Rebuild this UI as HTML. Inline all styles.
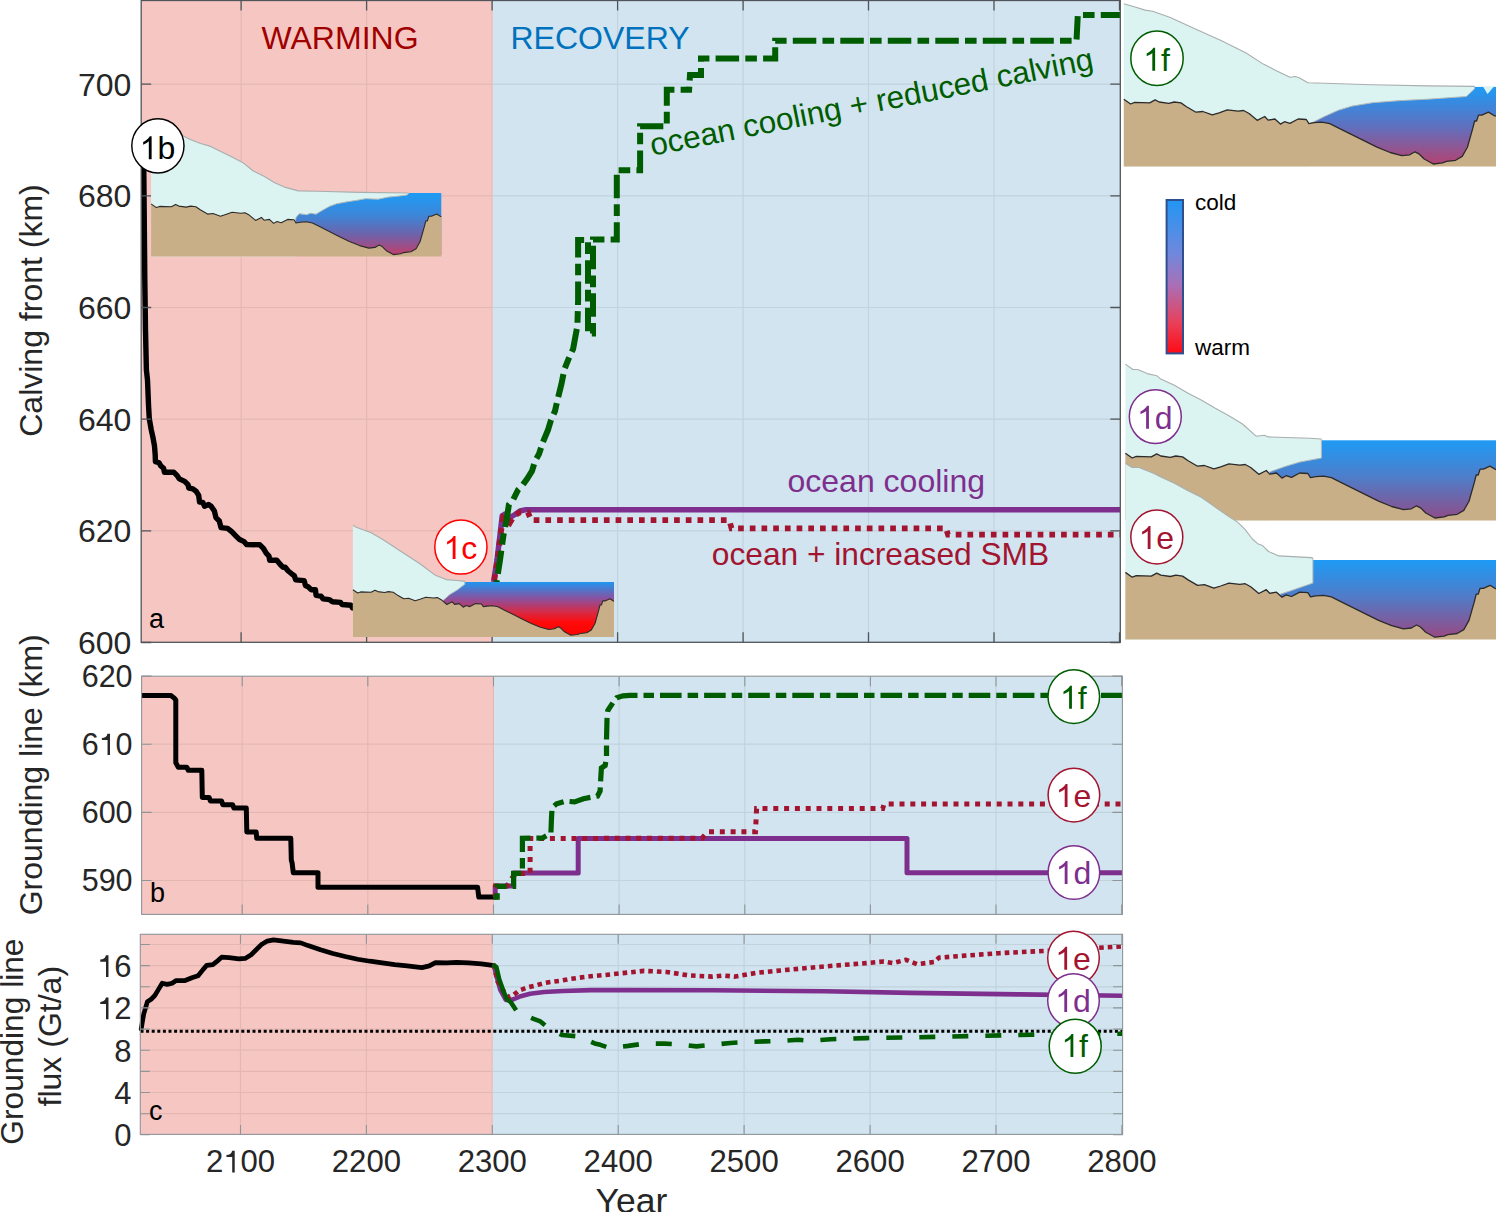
<!DOCTYPE html>
<html><head><meta charset="utf-8"><title>Calving front recovery</title>
<style>
html,body{margin:0;padding:0;background:#fff;overflow:hidden;}
svg{display:block;}
text{font-family:"Liberation Sans",sans-serif;}
</style></head><body>
<svg width="1496" height="1212" viewBox="0 0 1496 1212">
<defs><linearGradient id="w1b" gradientUnits="userSpaceOnUse" x1="0" y1="193" x2="0" y2="256"><stop offset="0" stop-color="#1E9BF5"/><stop offset="0.35" stop-color="#3C86D8"/><stop offset="0.65" stop-color="#6C64AC"/><stop offset="1" stop-color="#C43C68"/></linearGradient>
<linearGradient id="w1c" gradientUnits="userSpaceOnUse" x1="0" y1="582" x2="0" y2="636"><stop offset="0" stop-color="#1E96F0"/><stop offset="0.3" stop-color="#8852A0"/><stop offset="0.55" stop-color="#D42C48"/><stop offset="0.75" stop-color="#FF0A0A"/><stop offset="1" stop-color="#FF0000"/></linearGradient>
<linearGradient id="w1f" gradientUnits="userSpaceOnUse" x1="0" y1="87" x2="0" y2="166"><stop offset="0" stop-color="#1E9BF5"/><stop offset="0.5" stop-color="#6070BE"/><stop offset="1" stop-color="#B8406E"/></linearGradient>
<linearGradient id="cbar" x1="0" y1="0" x2="0" y2="1"><stop offset="0" stop-color="#2196F3"/><stop offset="0.35" stop-color="#7088DC"/><stop offset="0.55" stop-color="#A870B8"/><stop offset="0.8" stop-color="#E8405A"/><stop offset="1" stop-color="#FF0A14"/></linearGradient>
<linearGradient id="w1d" gradientUnits="userSpaceOnUse" x1="0" y1="440" x2="0" y2="519"><stop offset="0" stop-color="#1E9BF5"/><stop offset="0.45" stop-color="#4C7FCC"/><stop offset="1" stop-color="#904C88"/></linearGradient>
<linearGradient id="w1e" gradientUnits="userSpaceOnUse" x1="0" y1="560" x2="0" y2="638"><stop offset="0" stop-color="#1E9BF5"/><stop offset="0.45" stop-color="#4E7DCA"/><stop offset="1" stop-color="#9A4882"/></linearGradient></defs>
<rect width="1496" height="1212" fill="#fff"/>
<rect x="141.2" y="0.5" width="351.6" height="641.8" fill="#F6C7C2"/>
<rect x="492.8" y="0.5" width="627.5" height="641.8" fill="#D1E4EF"/>
<path d="M241.1,0.5V642.3M366.6,0.5V642.3M492.1,0.5V642.3M617.6,0.5V642.3M743.1,0.5V642.3M868.5,0.5V642.3M994,0.5V642.3M141.2,530.8H1120.3M141.2,419.1H1120.3M141.2,307.5H1120.3M141.2,195.8H1120.3M141.2,84.1H1120.3" stroke="#000" stroke-opacity="0.075" stroke-width="1.2" fill="none"/>
<rect x="141.6" y="676.2" width="352.5" height="238.2" fill="#F6C7C2"/>
<rect x="494.1" y="676.2" width="628.3" height="238.2" fill="#D1E4EF"/>
<path d="M242.2,676.2V914.4M367.8,676.2V914.4M493.5,676.2V914.4M619.1,676.2V914.4M744.8,676.2V914.4M870.4,676.2V914.4M996,676.2V914.4M141.6,880.5H1122.4M141.6,812.4H1122.4M141.6,744.2H1122.4" stroke="#000" stroke-opacity="0.075" stroke-width="1.2" fill="none"/>
<rect x="140.3" y="934.3" width="352.5" height="200.1" fill="#F6C7C2"/>
<rect x="492.8" y="934.3" width="629.8" height="200.1" fill="#D1E4EF"/>
<path d="M240.5,934.3V1134.4M366.4,934.3V1134.4M492.3,934.3V1134.4M618.2,934.3V1134.4M744.1,934.3V1134.4M870.1,934.3V1134.4M996,934.3V1134.4M140.3,1113.7H1122.6M140.3,1092.5H1122.6M140.3,1071.4H1122.6M140.3,1050.2H1122.6M140.3,1029.1H1122.6M140.3,1007.9H1122.6M140.3,986.8H1122.6M140.3,965.6H1122.6M140.3,944.5H1122.6" stroke="#000" stroke-opacity="0.075" stroke-width="1.2" fill="none"/>
<path d="M143.6,140 L143.8,170 L144.8,279 L145.5,330 L146.4,370 L147.5,380 L148.5,404.7 L149.3,418.8 L151.2,429.5 L153,437.7 L154.5,446 L155.2,455 L155.4,461.6 L159.1,462.8 L160.7,465.7 L163.6,468.2 L164.4,472.3 L173.9,472.3 L177.2,475.6 L179.3,478.9 L184.7,481.4 L188,484.7 L188.8,488 L192.9,488.8 L196.2,491.3 L198.7,495.4 L199.5,502 L202.8,502.4 L204.5,506.2 L208.6,504.5 L211.1,506.2 L214.4,511.1 L216,517.7 L219.3,521 L221,527.6 L227.6,528.4 L231.7,531.7 L235.8,535.9 L239.1,539.2 L244.1,541.6 L246.5,544.5 L259.9,544.8 L263.4,548.3 L266.2,553.2 L269,556.1 L269.7,560.3 L276.8,560.3 L280.3,564.5 L283.1,567.3 L285.2,567.3 L288,570.8 L292.2,574.3 L294.3,575.7 L295.7,579.9 L304.1,580.6 L305.5,585.5 L308.3,586.9 L311.1,589.7 L315.4,589.7 L316.1,595.4 L321,596.1 L323.1,598.9 L329.4,599.6 L332.2,601.7 L340.6,602.4 L342,604.5 L351.1,605.2 L352.5,608 L360,608" stroke="#000" stroke-width="5.4" fill="none" stroke-linecap="round" stroke-linejoin="round"/>
<path d="M493.6,582 L497,560 L500,535 L502.2,516 L505,514 L510,517.5 L515,514.5 L520,511 L525,509.8 L1120,509.8" stroke="#7E2F8E" stroke-width="5.5" fill="none" stroke-linecap="butt" stroke-linejoin="round"/>
<path d="M494,582 L497.5,560 L500.5,535 L503,518 L509.8,523 L514,516 L519.7,512.3 L527.9,512.3 L531.2,520.2 L729.3,520.2 L731.5,528.3 L945.9,528.3 L948,534.7 L1120,534.7" stroke="#A2142F" stroke-width="5.7" fill="none" stroke-linecap="butt" stroke-linejoin="miter" stroke-dasharray="5.7 6" stroke-dashoffset="9.71"/>
<path d="M496.6,582 L500,560 L503.5,535 L506.6,520 L508.9,504.5 L513,500 L518,490 L522,486 L527,479 L532,471 L535,461 L539,454 L543,442 L548,430 L551,420 L555,411 L557,402 L561.5,383.8 L564.4,369.3 L570.2,354.9 L573.1,349.1 L576,333.2 L577.4,326 L578.1,300 L578.1,240 L588,240 L588,333.5 L593,333.5 L593,239.5 L616.8,239.5 L616.8,170.3 L640.1,170.3 L640.1,126.2 L666.8,126.2 L666.8,89.8 L689.1,89.8 L690,75 L701,75 L701,58.6 L775.2,58.6 L775.2,40.8 L1076.5,40.8 L1077.8,15 L1120,15" stroke="#005C00" stroke-width="6" fill="none" stroke-linecap="butt" stroke-linejoin="miter" stroke-dasharray="23.5 6.2 11.6 6.2" stroke-dashoffset="39.31"/>
<path d="M141.2,695.5 L170.9,695.5 L174.6,698.4 L175.8,700 L175.8,762.8 L178.3,767.2 L186.9,767.2 L188.2,770.2 L201.8,770.2 L202.3,797.4 L209.2,797.4 L210.4,801.1 L221.6,801.1 L222.8,804.8 L232.7,804.8 L233.9,808 L246.3,808 L246.8,832 L256.2,832 L256.7,838.2 L290.8,838.2 L291.3,860 L292.1,862.9 L293.3,872.8 L318,872.8 L318,887.2 L477.6,887.2 L478.8,897.1 L494,897.1" stroke="#000" stroke-width="5.0" fill="none" stroke-linecap="butt" stroke-linejoin="round"/>
<path d="M493.5,897.1 L495.2,897.1 L495.2,886 L513.6,886 L513.6,873 L578.2,873 L578.2,838.6 L907,838.6 L907,872.8 L1122,872.8" stroke="#7E2F8E" stroke-width="5.0" fill="none" stroke-linecap="butt" stroke-linejoin="round"/>
<path d="M493.5,897.1 L495.5,897.1 L495.5,886 L507,886 L512,878 L516,873.5 L530.1,873.5 L530.1,838.5 L702,838.2 L707.7,831.8 L755.5,831.8 L756.6,808.6 L882.7,808.6 L884,804.1 L1122,804.1" stroke="#A2142F" stroke-width="5.0" fill="none" stroke-linecap="butt" stroke-linejoin="miter" stroke-dasharray="5 5.8" stroke-dashoffset="9.85"/>
<path d="M493.5,897.1 L497.2,897.1 L497.2,886.3 L513.6,886.3 L513.6,873.3 L522.4,873.3 L522.4,838.3 L542.6,838 L550.9,833.2 L551.5,817.8 L552.1,807.6 L556.6,803.8 L565.6,801.2 L574.5,801.9 L583.5,798.7 L597.5,796.1 L600.1,791 L600.7,779.5 L601.4,768 L605.2,765.4 L606.5,756.5 L606.5,739.9 L607.1,715.6 L607.8,710.5 L612.9,702.8 L616.7,697.7 L623.1,695.8 L630,695.3 L1122,695.3" stroke="#005C00" stroke-width="5.2" fill="none" stroke-linecap="butt" stroke-linejoin="miter" stroke-dasharray="21.6 6 10.5 6" stroke-dashoffset="14.10"/>
<path d="M140.5,1031.3 L1122,1031.3" stroke="#000" stroke-width="3" fill="none" stroke-linecap="butt" stroke-linejoin="round" stroke-dasharray="3 2.6"/>
<path d="M141.2,1028.9 L143.7,1014.1 L147.4,1001.7 L151.1,999.3 L154.8,995.5 L158.5,989.4 L162.2,983.2 L167.2,984.4 L172.1,983.2 L175.8,980.7 L184.5,980.7 L191.9,977.7 L198.1,975.8 L203,969.6 L206.7,965.4 L212.9,964.6 L216.6,961.7 L221.6,957.2 L229,957.7 L238.9,958.9 L245.1,958.4 L251.2,954.7 L256.2,949.8 L261.1,944.8 L267.3,941.1 L273.5,939.9 L283.4,941.1 L293.3,942.4 L300.7,942.9 L308.1,945.6 L320.5,949.8 L332.9,953.5 L345.2,956.5 L357.6,959.2 L370,961.2 L382.3,962.9 L394.7,964.6 L407.1,965.9 L421.9,967.6 L429.3,965.9 L435.5,962.6 L446.6,962.9 L456.5,962.4 L468.9,962.9 L481.3,963.9 L492.4,965.4" stroke="#000" stroke-width="4.7" fill="none" stroke-linecap="round" stroke-linejoin="round"/>
<path d="M492.5,965.3 L494,965.6 L496.4,975.6 L500.2,989.6 L505.8,999.9 L510,1000.2 L514.2,999 L520.8,996.2 L530.1,993.8 L544.1,992 L562.9,991 L590.9,990.1 L628,990.1 L712.3,990.2 L825,991.3 L910.3,992.9 L1020.6,994.4 L1122,995.7" stroke="#7E2F8E" stroke-width="4.6" fill="none" stroke-linecap="butt" stroke-linejoin="round"/>
<path d="M492.5,965.3 L494,965.6 L497.4,981.2 L503.9,991.5 L508.6,997.1 L513.3,995.2 L518.9,990.6 L526.4,987.8 L535.7,985.4 L544.1,983.1 L552.6,981.7 L561,980.7 L569.4,979.1 L577.8,977.9 L587.2,976.7 L595.6,975.8 L604,975.1 L612.5,974.2 L621.8,973.2 L644.1,970.9 L666.8,972 L689.5,975.5 L712.3,976.6 L723.6,975.5 L735,976.6 L757.7,972.7 L780.5,970.5 L825,966.4 L866.2,963.1 L883.8,961.5 L892.7,963.1 L905.9,959.8 L916.9,964.2 L934.6,962 L939,957.6 L998.5,953.2 L1042.7,951 L1122,946.5" stroke="#A2142F" stroke-width="4.6" fill="none" stroke-linecap="butt" stroke-linejoin="round" stroke-dasharray="4.6 4"/>
<path d="M492.5,965.3 L494,965.5 L496.4,967.2 L499.2,979.3 L503,990 L506.7,999 L510.5,1001.8 L516.1,1010.2" stroke="#005C00" stroke-width="4.6" fill="none" stroke-linecap="butt" stroke-linejoin="round"/>
<path d="M516.1,1010.2 L524,1014.5 L532.9,1018.6 L540.4,1021.4 L546,1026.1 L554,1031 L561.9,1035 L578.8,1036.4 L586,1039.5 L594.7,1043.4 L600.3,1044.8 L609.7,1048.1 L628.2,1045.9 L644.1,1043.6 L664.5,1043.6 L678.2,1044.3 L696.4,1046.4 L712.3,1044.8 L730.5,1043 L746.4,1042 L764.5,1041.4 L780.5,1040.9 L798.6,1039.8 L810,1040.7 L830.9,1039.2 L866.2,1038.1 L910.3,1037.4 L976.5,1035.9 L1031.6,1034.8 L1122,1033.7" stroke="#005C00" stroke-width="4.6" fill="none" stroke-linecap="butt" stroke-linejoin="round" stroke-dasharray="16 17" stroke-dashoffset="16.18"/>
<path d="M241.1,642.3v-10M241.1,0.5v10M366.6,642.3v-10M366.6,0.5v10M492.1,642.3v-10M492.1,0.5v10M617.6,642.3v-10M617.6,0.5v10M743.1,642.3v-10M743.1,0.5v10M868.5,642.3v-10M868.5,0.5v10M994,642.3v-10M994,0.5v10M1119.5,642.3v-10M1119.5,0.5v10M141.2,642.5h10M1120.3,642.5h-10M141.2,530.8h10M1120.3,530.8h-10M141.2,419.1h10M1120.3,419.1h-10M141.2,307.5h10M1120.3,307.5h-10M141.2,195.8h10M1120.3,195.8h-10M141.2,84.1h10M1120.3,84.1h-10" stroke="#4F555A" stroke-width="1.3" fill="none"/>
<rect x="141.2" y="0.5" width="979.1" height="641.8" fill="none" stroke="#4F555A" stroke-width="1.3"/>
<path d="M242.2,914.4v-10M242.2,676.2v10M367.8,914.4v-10M367.8,676.2v10M493.5,914.4v-10M493.5,676.2v10M619.1,914.4v-10M619.1,676.2v10M744.8,914.4v-10M744.8,676.2v10M870.4,914.4v-10M870.4,676.2v10M996,914.4v-10M996,676.2v10M1121.7,914.4v-10M1121.7,676.2v10M141.6,880.5h10M1122.4,880.5h-10M141.6,812.4h10M1122.4,812.4h-10M141.6,744.2h10M1122.4,744.2h-10M141.6,676.1h10M1122.4,676.1h-10" stroke="#8F9499" stroke-width="1.1" fill="none"/>
<rect x="141.6" y="676.2" width="980.8" height="238.2" fill="none" stroke="#8F9499" stroke-width="1.1"/>
<path d="M240.5,1134.4v-9.5M240.5,934.3v9.5M366.4,1134.4v-9.5M366.4,934.3v9.5M492.3,1134.4v-9.5M492.3,934.3v9.5M618.2,1134.4v-9.5M618.2,934.3v9.5M744.1,1134.4v-9.5M744.1,934.3v9.5M870.1,1134.4v-9.5M870.1,934.3v9.5M996,1134.4v-9.5M996,934.3v9.5M1121.9,1134.4v-9.5M1121.9,934.3v9.5M140.3,1134.8h9.5M1122.6,1134.8h-9.5M140.3,1113.7h9.5M1122.6,1113.7h-9.5M140.3,1092.5h9.5M1122.6,1092.5h-9.5M140.3,1071.4h9.5M1122.6,1071.4h-9.5M140.3,1050.2h9.5M1122.6,1050.2h-9.5M140.3,1029.1h9.5M1122.6,1029.1h-9.5M140.3,1007.9h9.5M1122.6,1007.9h-9.5M140.3,986.8h9.5M1122.6,986.8h-9.5M140.3,965.6h9.5M1122.6,965.6h-9.5M140.3,944.5h9.5M1122.6,944.5h-9.5" stroke="#8F9499" stroke-width="1.1" fill="none"/>
<rect x="140.3" y="934.3" width="982.3" height="200.1" fill="none" stroke="#8F9499" stroke-width="1.1"/>
<rect x="295" y="193" width="146.3" height="62" fill="url(#w1b)"/>
<polygon points="151.1,128 170,131 182.8,135.7 189.2,138.9 199.9,143.2 210.6,146.4 221.3,151.7 232,157.1 242.6,162.4 253.3,171 264,176.3 274.7,182.7 285.4,187.4 298.3,190.9 317.5,191.3 360.3,192.4 408.4,193 408.7,193.2 407.1,195 398.8,196.1 388.4,197.1 378.1,199.2 365.6,198.7 357.4,200.2 347,201.8 336.6,203.8 329.4,206.4 321.1,211.1 315.9,214.2 310.7,213.2 306.6,214.7 299.3,213.7 296.2,217.3 295.2,221.5 295.2,256.5 151.1,256.5" fill="#DBF4F1"/>
<path d="M151.1,128 L170,131 L182.8,135.7 L189.2,138.9 L199.9,143.2 L210.6,146.4 L221.3,151.7 L232,157.1 L242.6,162.4 L253.3,171 L264,176.3 L274.7,182.7 L285.4,187.4 L298.3,190.9 L317.5,191.3 L360.3,192.4 L408.4,193" fill="none" stroke="#A9AEAE" stroke-width="1.1" stroke-linejoin="round"/>
<path d="M408.4,193 L408.7,193.2 L407.1,195 L398.8,196.1 L388.4,197.1 L378.1,199.2 L365.6,198.7 L357.4,200.2 L347,201.8 L336.6,203.8 L329.4,206.4 L321.1,211.1 L315.9,214.2 L310.7,213.2 L306.6,214.7 L299.3,213.7 L296.2,217.3 L295.2,221.5" fill="none" stroke="#B4BABA" stroke-width="1" stroke-linejoin="round"/>
<polygon points="151.1,203.9 156.4,207.6 159.6,206.4 171.4,206.8 175.6,204.4 178.8,206.1 186.3,207.1 190.6,206.1 195.9,206.8 200.2,209.8 207.6,214.1 213,213.5 220.4,216.2 225.7,214.5 232.1,212.3 240.7,213.2 244.9,212.7 249.2,215.1 255.6,220.4 261.4,217.4 264.1,220.2 269.4,219.4 273.7,223.4 276.9,221.5 281.2,222.8 287.6,219.4 294,219.8 296,223 300.1,222.2 306.3,221.8 312.4,223 318.6,226.1 328.8,231.2 339.1,236.4 349.4,241.5 359.6,245.6 368.9,248.1 375,247.4 379.1,245.1 382.2,246.6 386.3,250.7 393.4,254.6 400.6,253.8 403.7,252.6 410.9,251.7 416.1,248.7 420.1,241.5 424.2,227.1 425.8,221 427.3,221 428.8,216.3 431.4,216.3 436.6,214 441.3,216.9 441.3,256.5 151.1,256.5" fill="#C8AF87"/>
<path d="M151.1,203.9 L156.4,207.6 L159.6,206.4 L171.4,206.8 L175.6,204.4 L178.8,206.1 L186.3,207.1 L190.6,206.1 L195.9,206.8 L200.2,209.8 L207.6,214.1 L213,213.5 L220.4,216.2 L225.7,214.5 L232.1,212.3 L240.7,213.2 L244.9,212.7 L249.2,215.1 L255.6,220.4 L261.4,217.4 L264.1,220.2 L269.4,219.4 L273.7,223.4 L276.9,221.5 L281.2,222.8 L287.6,219.4 L294,219.8 L296,223 L300.1,222.2 L306.3,221.8 L312.4,223 L318.6,226.1 L328.8,231.2 L339.1,236.4 L349.4,241.5 L359.6,245.6 L368.9,248.1 L375,247.4 L379.1,245.1 L382.2,246.6 L386.3,250.7 L393.4,254.6 L400.6,253.8 L403.7,252.6 L410.9,251.7 L416.1,248.7 L420.1,241.5 L424.2,227.1 L425.8,221 L427.3,221 L428.8,216.3 L431.4,216.3 L436.6,214 L441.3,216.9" fill="none" stroke="#2B2B2B" stroke-width="1.1" stroke-linejoin="round"/>
<rect x="443" y="582" width="171" height="53.5" fill="url(#w1c)"/>
<polygon points="352.9,525.3 356.2,527.2 363.7,530 371.2,532.8 382.4,539.3 401.1,551.5 419.9,563.7 434.8,574.9 446.1,579.6 457.3,580.5 464.8,581.4 464.8,584.2 457.3,589.9 449.8,594.5 443.3,600.2 443.3,637 352.9,637" fill="#DBF4F1"/>
<path d="M352.9,525.3 L356.2,527.2 L363.7,530 L371.2,532.8 L382.4,539.3 L401.1,551.5 L419.9,563.7 L434.8,574.9 L446.1,579.6 L457.3,580.5 L464.8,581.4" fill="none" stroke="#A9AEAE" stroke-width="1.1" stroke-linejoin="round"/>
<path d="M464.8,581.4 L464.8,584.2 L457.3,589.9 L449.8,594.5 L443.3,600.2" fill="none" stroke="#B4BABA" stroke-width="1" stroke-linejoin="round"/>
<polygon points="352.9,589.7 357.7,593 360.6,591.9 371.1,592.3 375,590.2 377.8,591.6 384.6,592.5 388.4,591.6 393.2,592.3 397.1,594.9 403.8,598.8 408.6,598.3 415.2,600.7 420,599.2 425.8,597.2 433.5,598 437.3,597.6 441.2,599.7 446.9,604.5 452.2,601.8 454.6,604.4 459.3,603.6 463.2,607.2 466.1,605.5 469.9,606.6 475.7,603.6 481.5,604 483.3,606.8 487,606.1 492.5,605.8 498,606.8 503.6,609.7 512.8,614.2 522.1,618.9 531.3,623.5 540.5,627.2 548.8,629.5 554.4,628.8 558.1,626.7 560.8,628.1 564.5,631.8 570.9,635.3 577.4,634.5 580.2,633.5 586.7,632.7 591.3,630 595,623.5 598.6,610.6 600,605 601.4,605 602.8,600.9 605.1,600.9 609.8,598.7 614,601.4 614,637 352.9,637" fill="#C8AF87"/>
<path d="M352.9,589.7 L357.7,593 L360.6,591.9 L371.1,592.3 L375,590.2 L377.8,591.6 L384.6,592.5 L388.4,591.6 L393.2,592.3 L397.1,594.9 L403.8,598.8 L408.6,598.3 L415.2,600.7 L420,599.2 L425.8,597.2 L433.5,598 L437.3,597.6 L441.2,599.7 L446.9,604.5 L452.2,601.8 L454.6,604.4 L459.3,603.6 L463.2,607.2 L466.1,605.5 L469.9,606.6 L475.7,603.6 L481.5,604 L483.3,606.8 L487,606.1 L492.5,605.8 L498,606.8 L503.6,609.7 L512.8,614.2 L522.1,618.9 L531.3,623.5 L540.5,627.2 L548.8,629.5 L554.4,628.8 L558.1,626.7 L560.8,628.1 L564.5,631.8 L570.9,635.3 L577.4,634.5 L580.2,633.5 L586.7,632.7 L591.3,630 L595,623.5 L598.6,610.6 L600,605 L601.4,605 L602.8,600.9 L605.1,600.9 L609.8,598.7 L614,601.4" fill="none" stroke="#2B2B2B" stroke-width="1.1" stroke-linejoin="round"/>
<rect x="1309" y="86.9" width="187" height="78" fill="url(#w1f)"/>
<polygon points="1123.8,3.8 1132.6,6.3 1145.1,10.1 1152.7,11.3 1170.3,17.6 1195.4,28.9 1220.5,40.2 1245.7,52.8 1263.3,64.1 1275.8,70.4 1290,77.2 1295.5,76.5 1299.6,77.9 1307.9,82.7 1372.6,84.8 1427.7,85.9 1474.5,86.4 1474.5,88.9 1466.3,96.5 1427.7,99.2 1400.2,100.6 1372.6,102.7 1352,106.1 1338.2,110.3 1324.4,116.5 1309.3,124 1309.3,166.4 1123.8,166.4" fill="#DBF4F1"/>
<path d="M1123.8,3.8 L1132.6,6.3 L1145.1,10.1 L1152.7,11.3 L1170.3,17.6 L1195.4,28.9 L1220.5,40.2 L1245.7,52.8 L1263.3,64.1 L1275.8,70.4 L1290,77.2 L1295.5,76.5 L1299.6,77.9 L1307.9,82.7 L1372.6,84.8 L1427.7,85.9 L1474.5,86.4" fill="none" stroke="#A9AEAE" stroke-width="1.1" stroke-linejoin="round"/>
<path d="M1474.5,86.4 L1474.5,88.9 L1466.3,96.5 L1427.7,99.2 L1400.2,100.6 L1372.6,102.7 L1352,106.1 L1338.2,110.3 L1324.4,116.5 L1309.3,124" fill="none" stroke="#B4BABA" stroke-width="1" stroke-linejoin="round"/>
<polygon points="1123.8,99.2 1130.6,104 1134.7,102.4 1149.7,102.9 1155.1,99.9 1159.2,102 1168.8,103.3 1174.2,102 1181,102.9 1186.5,106.7 1196,112.2 1202.8,111.5 1212.3,114.9 1219.1,112.8 1227.3,109.9 1238.2,111.1 1243.6,110.5 1249.1,113.5 1257.2,120.3 1264.7,116.5 1268.1,120.1 1274.9,119 1280.4,124.1 1284.5,121.7 1289.9,123.3 1298.1,119 1306.3,119.5 1308.9,123.6 1314.1,122.6 1322,122.1 1329.8,123.6 1337.7,127.6 1350.8,134.1 1363.9,140.7 1377,147.2 1390.1,152.5 1401.9,155.7 1409.8,154.8 1415,151.8 1418.9,153.8 1424.2,159 1433.3,164 1442.5,162.9 1446.4,161.4 1455.6,160.3 1462.2,156.4 1467.4,147.2 1472.6,128.9 1474.6,121 1476.6,121 1478.5,115.1 1481.8,115.1 1488.4,112.1 1494.4,115.8 1496,115.8 1496,166.4 1123.8,166.4" fill="#C8AF87"/>
<path d="M1123.8,99.2 L1130.6,104 L1134.7,102.4 L1149.7,102.9 L1155.1,99.9 L1159.2,102 L1168.8,103.3 L1174.2,102 L1181,102.9 L1186.5,106.7 L1196,112.2 L1202.8,111.5 L1212.3,114.9 L1219.1,112.8 L1227.3,109.9 L1238.2,111.1 L1243.6,110.5 L1249.1,113.5 L1257.2,120.3 L1264.7,116.5 L1268.1,120.1 L1274.9,119 L1280.4,124.1 L1284.5,121.7 L1289.9,123.3 L1298.1,119 L1306.3,119.5 L1308.9,123.6 L1314.1,122.6 L1322,122.1 L1329.8,123.6 L1337.7,127.6 L1350.8,134.1 L1363.9,140.7 L1377,147.2 L1390.1,152.5 L1401.9,155.7 L1409.8,154.8 L1415,151.8 L1418.9,153.8 L1424.2,159 L1433.3,164 L1442.5,162.9 L1446.4,161.4 L1455.6,160.3 L1462.2,156.4 L1467.4,147.2 L1472.6,128.9 L1474.6,121 L1476.6,121 L1478.5,115.1 L1481.8,115.1 L1488.4,112.1 L1494.4,115.8 L1496,115.8" fill="none" stroke="#2B2B2B" stroke-width="1.3" stroke-linejoin="round"/>
<polygon points="1483,86.6 1494,86.6 1487.5,94" fill="#DBF4F1"/>
<rect x="1166.6" y="200" width="16.4" height="153.4" fill="url(#cbar)" stroke="#2F4F8F" stroke-width="2"/>
<text x="1195" y="209.8" font-size="22.5" fill="#000">cold</text>
<text x="1195" y="354.7" font-size="22.5" fill="#000">warm</text>
<rect x="1269.5" y="440.3" width="226.5" height="78.6" fill="url(#w1d)"/>
<polygon points="1125.4,364.1 1132.9,369.5 1137.7,369.5 1147.2,373.6 1156.7,375.7 1160.8,379.1 1174.4,385.2 1188.1,393.3 1201.7,400.2 1215.3,408.3 1228.9,415.8 1242.5,424 1256.1,436.2 1264.3,435.3 1268.4,436.9 1310,438.3 1321.4,439 1321.4,458 1300,462 1285,466.5 1269.5,472 1269.5,520.4 1125.4,520.4" fill="#DBF4F1"/>
<path d="M1125.4,364.1 L1132.9,369.5 L1137.7,369.5 L1147.2,373.6 L1156.7,375.7 L1160.8,379.1 L1174.4,385.2 L1188.1,393.3 L1201.7,400.2 L1215.3,408.3 L1228.9,415.8 L1242.5,424 L1256.1,436.2 L1264.3,435.3 L1268.4,436.9 L1310,438.3 L1321.4,439" fill="none" stroke="#A9AEAE" stroke-width="1.1" stroke-linejoin="round"/>
<path d="M1321.4,439 L1321.4,458 L1300,462 L1285,466.5 L1269.5,472" fill="none" stroke="#B4BABA" stroke-width="1" stroke-linejoin="round"/>
<polygon points="1125.4,453.2 1132.2,458 1136.3,456.4 1151.3,456.9 1156.7,453.9 1160.8,456 1170.4,457.3 1175.8,456 1182.6,456.9 1188.1,460.7 1197.6,466.2 1204.4,465.5 1213.9,468.9 1220.7,466.8 1228.9,463.9 1239.8,465.1 1245.2,464.5 1250.7,467.5 1258.8,474.3 1266.3,470.5 1269.7,474.1 1276.5,473 1282,478.1 1286.1,475.7 1291.5,477.3 1299.7,473 1307.9,473.5 1310.5,477.6 1315.7,476.6 1323.6,476.1 1331.4,477.6 1339.3,481.6 1352.4,488.1 1365.5,494.7 1378.6,501.2 1391.7,506.5 1403.5,509.7 1411.4,508.8 1416.6,505.8 1420.5,507.8 1425.8,513 1434.9,518 1444.1,516.9 1448,515.4 1457.2,514.3 1463.8,510.4 1469,501.2 1474.2,482.9 1476.2,475 1478.2,475 1480.1,469.1 1483.4,469.1 1490,466.1 1496,469.8 1496,520.4 1125.4,520.4" fill="#C8AF87"/>
<path d="M1125.4,453.2 L1132.2,458 L1136.3,456.4 L1151.3,456.9 L1156.7,453.9 L1160.8,456 L1170.4,457.3 L1175.8,456 L1182.6,456.9 L1188.1,460.7 L1197.6,466.2 L1204.4,465.5 L1213.9,468.9 L1220.7,466.8 L1228.9,463.9 L1239.8,465.1 L1245.2,464.5 L1250.7,467.5 L1258.8,474.3 L1266.3,470.5 L1269.7,474.1 L1276.5,473 L1282,478.1 L1286.1,475.7 L1291.5,477.3 L1299.7,473 L1307.9,473.5 L1310.5,477.6 L1315.7,476.6 L1323.6,476.1 L1331.4,477.6 L1339.3,481.6 L1352.4,488.1 L1365.5,494.7 L1378.6,501.2 L1391.7,506.5 L1403.5,509.7 L1411.4,508.8 L1416.6,505.8 L1420.5,507.8 L1425.8,513 L1434.9,518 L1444.1,516.9 L1448,515.4 L1457.2,514.3 L1463.8,510.4 L1469,501.2 L1474.2,482.9 L1476.2,475 L1478.2,475 L1480.1,469.1 L1483.4,469.1 L1490,466.1 L1496,469.8" fill="none" stroke="#2B2B2B" stroke-width="1.3" stroke-linejoin="round"/>
<rect x="1280.3" y="560" width="215.7" height="78.1" fill="url(#w1e)"/>
<polygon points="1125.4,463.4 1132.2,467.5 1139.1,467.5 1154,473.6 1160.8,477.1 1174.4,483.2 1188.1,490.7 1201.7,497.5 1215.6,507.4 1230.3,517.6 1237.6,522.1 1245,529.4 1252.4,539 1258.2,544.1 1262.6,545.6 1268.5,551.5 1278.8,555.9 1311.2,557.6 1312.9,558.1 1312.9,583.1 1300,587.5 1290,591 1280.3,594.1 1280.3,639.6 1125.4,639.6" fill="#DBF4F1"/>
<path d="M1125.4,463.4 L1132.2,467.5 L1139.1,467.5 L1154,473.6 L1160.8,477.1 L1174.4,483.2 L1188.1,490.7 L1201.7,497.5 L1215.6,507.4 L1230.3,517.6 L1237.6,522.1 L1245,529.4 L1252.4,539 L1258.2,544.1 L1262.6,545.6 L1268.5,551.5 L1278.8,555.9 L1311.2,557.6 L1312.9,558.1" fill="none" stroke="#A9AEAE" stroke-width="1.1" stroke-linejoin="round"/>
<path d="M1312.9,558.1 L1312.9,583.1 L1300,587.5 L1290,591 L1280.3,594.1" fill="none" stroke="#B4BABA" stroke-width="1" stroke-linejoin="round"/>
<polygon points="1125.4,572.4 1132.2,577.2 1136.3,575.6 1151.3,576.1 1156.7,573.1 1160.8,575.2 1170.4,576.5 1175.8,575.2 1182.6,576.1 1188.1,579.9 1197.6,585.4 1204.4,584.7 1213.9,588.1 1220.7,586 1228.9,583.1 1239.8,584.3 1245.2,583.7 1250.7,586.7 1258.8,593.5 1266.3,589.7 1269.7,593.3 1276.5,592.2 1282,597.3 1286.1,594.9 1291.5,596.5 1299.7,592.2 1307.9,592.7 1310.5,596.8 1315.7,595.8 1323.6,595.3 1331.4,596.8 1339.3,600.8 1352.4,607.3 1365.5,613.9 1378.6,620.4 1391.7,625.7 1403.5,628.9 1411.4,628 1416.6,625 1420.5,627 1425.8,632.2 1434.9,637.2 1444.1,636.1 1448,634.6 1457.2,633.5 1463.8,629.6 1469,620.4 1474.2,602.1 1476.2,594.2 1478.2,594.2 1480.1,588.3 1483.4,588.3 1490,585.3 1496,589 1496,639.6 1125.4,639.6" fill="#C8AF87"/>
<path d="M1125.4,572.4 L1132.2,577.2 L1136.3,575.6 L1151.3,576.1 L1156.7,573.1 L1160.8,575.2 L1170.4,576.5 L1175.8,575.2 L1182.6,576.1 L1188.1,579.9 L1197.6,585.4 L1204.4,584.7 L1213.9,588.1 L1220.7,586 L1228.9,583.1 L1239.8,584.3 L1245.2,583.7 L1250.7,586.7 L1258.8,593.5 L1266.3,589.7 L1269.7,593.3 L1276.5,592.2 L1282,597.3 L1286.1,594.9 L1291.5,596.5 L1299.7,592.2 L1307.9,592.7 L1310.5,596.8 L1315.7,595.8 L1323.6,595.3 L1331.4,596.8 L1339.3,600.8 L1352.4,607.3 L1365.5,613.9 L1378.6,620.4 L1391.7,625.7 L1403.5,628.9 L1411.4,628 L1416.6,625 L1420.5,627 L1425.8,632.2 L1434.9,637.2 L1444.1,636.1 L1448,634.6 L1457.2,633.5 L1463.8,629.6 L1469,620.4 L1474.2,602.1 L1476.2,594.2 L1478.2,594.2 L1480.1,588.3 L1483.4,588.3 L1490,585.3 L1496,589" fill="none" stroke="#2B2B2B" stroke-width="1.3" stroke-linejoin="round"/>
<text x="77.9" y="654" font-size="32" fill="#262626">600</text>
<text x="77.9" y="542.3" font-size="32" fill="#262626">620</text>
<text x="77.9" y="430.6" font-size="32" fill="#262626">640</text>
<text x="77.9" y="319" font-size="32" fill="#262626">660</text>
<text x="77.9" y="207.3" font-size="32" fill="#262626">680</text>
<text x="77.9" y="95.6" font-size="32" fill="#262626">700</text>
<text x="81.7" y="891.4" font-size="30.5" fill="#262626">590</text>
<text x="81.7" y="823.2" font-size="30.5" fill="#262626">600</text>
<text x="81.7" y="755.1" font-size="30.5" fill="#262626">6 0</text>
<path d="M0.37,0 L0.29,0 L0.29,-0.492 L0.105,-0.492 L0.105,-0.562 C0.2,-0.566 0.268,-0.6 0.288,-0.70 L0.37,-0.70 Z" transform="translate(98.7,755.1) scale(30.5)" fill="#262626"/>
<text x="81.7" y="686.9" font-size="30.5" fill="#262626">620</text>
<text x="114.3" y="1146.2" font-size="31" fill="#262626">0</text>
<text x="114.3" y="1103.9" font-size="31" fill="#262626">4</text>
<text x="114.3" y="1061.6" font-size="31" fill="#262626">8</text>
<text x="97" y="1019.3" font-size="31" fill="#262626"> 2</text>
<path d="M0.37,0 L0.29,0 L0.29,-0.492 L0.105,-0.492 L0.105,-0.562 C0.2,-0.566 0.268,-0.6 0.288,-0.70 L0.37,-0.70 Z" transform="translate(97,1019.3) scale(31)" fill="#262626"/>
<text x="97" y="977" font-size="31" fill="#262626"> 6</text>
<path d="M0.37,0 L0.29,0 L0.29,-0.492 L0.105,-0.492 L0.105,-0.562 C0.2,-0.566 0.268,-0.6 0.288,-0.70 L0.37,-0.70 Z" transform="translate(97,977) scale(31)" fill="#262626"/>
<text x="205.9" y="1172.4" font-size="31.1" fill="#262626">2 00</text>
<path d="M0.37,0 L0.29,0 L0.29,-0.492 L0.105,-0.492 L0.105,-0.562 C0.2,-0.566 0.268,-0.6 0.288,-0.70 L0.37,-0.70 Z" transform="translate(223.2,1172.4) scale(31.1)" fill="#262626"/>
<text x="331.8" y="1172.4" font-size="31.1" fill="#262626">2200</text>
<text x="457.7" y="1172.4" font-size="31.1" fill="#262626">2300</text>
<text x="583.6" y="1172.4" font-size="31.1" fill="#262626">2400</text>
<text x="709.5" y="1172.4" font-size="31.1" fill="#262626">2500</text>
<text x="835.5" y="1172.4" font-size="31.1" fill="#262626">2600</text>
<text x="961.4" y="1172.4" font-size="31.1" fill="#262626">2700</text>
<text x="1087.3" y="1172.4" font-size="31.1" fill="#262626">2800</text>
<text x="631.4" y="1213" font-size="35.5" fill="#262626" text-anchor="middle">Year</text>
<text transform="translate(41.8,310.5) rotate(-90)" font-size="32" fill="#262626" text-anchor="middle">Calving front (km)</text>
<text transform="translate(42.3,774.8) rotate(-90)" font-size="32" fill="#262626" text-anchor="middle">Grounding line (km)</text>
<text transform="translate(23,1041.6) rotate(-90)" font-size="31.7" fill="#262626" text-anchor="middle">Grounding line</text>
<text transform="translate(61.3,1036.2) rotate(-90)" font-size="32" fill="#262626" text-anchor="middle">flux (Gt/a)</text>
<text x="149" y="627.7" font-size="27" fill="#000">a</text>
<text x="150" y="901.6" font-size="27" fill="#000">b</text>
<text x="149" y="1119.5" font-size="27" fill="#000">c</text>
<text x="261.5" y="48.5" font-size="32" fill="#A00000">WARMING</text>
<text x="510.5" y="48.5" font-size="32" fill="#0072BD">RECOVERY</text>
<text transform="translate(652.3,155.8) rotate(-11.1)" font-size="31.5" fill="#005C00">ocean cooling + reduced calving</text>
<text x="787.5" y="492" font-size="32" fill="#7E2F8E">ocean cooling</text>
<text x="711.8" y="564.7" font-size="31.7" fill="#A2142F">ocean + increased SMB</text>
<ellipse cx="157.9" cy="145.8" rx="26.1" ry="27.1" fill="#fff" stroke="#000" stroke-width="1.45"/>
<path d="M0.3726,0 L0.2847,0 L0.2847,-0.5601 Q0.2529,-0.5298 0.2014,-0.4995 Q0.1499,-0.4692 0.1089,-0.4541 L0.1089,-0.5391 Q0.1826,-0.5737 0.2378,-0.6230 Q0.2930,-0.6724 0.3159,-0.7188 L0.3726,-0.7188 Z" transform="translate(139.7,159.2) scale(32)" fill="#000"/>
<text x="157.4" y="159.2" font-size="32" fill="#000">b</text>
<ellipse cx="460.9" cy="547" rx="26.1" ry="27.1" fill="#fff" stroke="#FF0000" stroke-width="1.5"/>
<path d="M0.3726,0 L0.2847,0 L0.2847,-0.5601 Q0.2529,-0.5298 0.2014,-0.4995 Q0.1499,-0.4692 0.1089,-0.4541 L0.1089,-0.5391 Q0.1826,-0.5737 0.2378,-0.6230 Q0.2930,-0.6724 0.3159,-0.7188 L0.3726,-0.7188 Z" transform="translate(443.6,559) scale(32)" fill="#FF0000"/>
<text x="461.3" y="559" font-size="32" fill="#FF0000">c</text>
<ellipse cx="1157" cy="58.2" rx="26.2" ry="27.3" fill="#fff" stroke="#005C00" stroke-width="1.5"/>
<path d="M0.3726,0 L0.2847,0 L0.2847,-0.5601 Q0.2529,-0.5298 0.2014,-0.4995 Q0.1499,-0.4692 0.1089,-0.4541 L0.1089,-0.5391 Q0.1826,-0.5737 0.2378,-0.6230 Q0.2930,-0.6724 0.3159,-0.7188 L0.3726,-0.7188 Z" transform="translate(1143.2,70.8) scale(32)" fill="#005C00"/>
<text x="1161" y="70.8" font-size="32" fill="#005C00">f</text>
<ellipse cx="1155.3" cy="416.6" rx="26" ry="26.9" fill="#fff" stroke="#7E2F8E" stroke-width="1.5"/>
<path d="M0.3726,0 L0.2847,0 L0.2847,-0.5601 Q0.2529,-0.5298 0.2014,-0.4995 Q0.1499,-0.4692 0.1089,-0.4541 L0.1089,-0.5391 Q0.1826,-0.5737 0.2378,-0.6230 Q0.2930,-0.6724 0.3159,-0.7188 L0.3726,-0.7188 Z" transform="translate(1137,428.8) scale(32)" fill="#7E2F8E"/>
<text x="1154.8" y="428.8" font-size="32" fill="#7E2F8E">d</text>
<ellipse cx="1156.8" cy="537" rx="26" ry="26.9" fill="#fff" stroke="#A2142F" stroke-width="1.5"/>
<path d="M0.3726,0 L0.2847,0 L0.2847,-0.5601 Q0.2529,-0.5298 0.2014,-0.4995 Q0.1499,-0.4692 0.1089,-0.4541 L0.1089,-0.5391 Q0.1826,-0.5737 0.2378,-0.6230 Q0.2930,-0.6724 0.3159,-0.7188 L0.3726,-0.7188 Z" transform="translate(1138.6,549) scale(32)" fill="#A2142F"/>
<text x="1156.3" y="549" font-size="32" fill="#A2142F">e</text>
<ellipse cx="1073.8" cy="696.6" rx="25.8" ry="26.8" fill="#fff" stroke="#005C00" stroke-width="1.5"/>
<path d="M0.3726,0 L0.2847,0 L0.2847,-0.5601 Q0.2529,-0.5298 0.2014,-0.4995 Q0.1499,-0.4692 0.1089,-0.4541 L0.1089,-0.5391 Q0.1826,-0.5737 0.2378,-0.6230 Q0.2930,-0.6724 0.3159,-0.7188 L0.3726,-0.7188 Z" transform="translate(1060,708.8) scale(32)" fill="#005C00"/>
<text x="1077.7" y="708.8" font-size="32" fill="#005C00">f</text>
<ellipse cx="1073.9" cy="795.1" rx="25.8" ry="26.8" fill="#fff" stroke="#A2142F" stroke-width="1.5"/>
<path d="M0.3726,0 L0.2847,0 L0.2847,-0.5601 Q0.2529,-0.5298 0.2014,-0.4995 Q0.1499,-0.4692 0.1089,-0.4541 L0.1089,-0.5391 Q0.1826,-0.5737 0.2378,-0.6230 Q0.2930,-0.6724 0.3159,-0.7188 L0.3726,-0.7188 Z" transform="translate(1055.6,807) scale(32)" fill="#A2142F"/>
<text x="1073.4" y="807" font-size="32" fill="#A2142F">e</text>
<ellipse cx="1073.9" cy="872.5" rx="25.8" ry="26.8" fill="#fff" stroke="#7E2F8E" stroke-width="1.5"/>
<path d="M0.3726,0 L0.2847,0 L0.2847,-0.5601 Q0.2529,-0.5298 0.2014,-0.4995 Q0.1499,-0.4692 0.1089,-0.4541 L0.1089,-0.5391 Q0.1826,-0.5737 0.2378,-0.6230 Q0.2930,-0.6724 0.3159,-0.7188 L0.3726,-0.7188 Z" transform="translate(1055.6,884) scale(32)" fill="#7E2F8E"/>
<text x="1073.4" y="884" font-size="32" fill="#7E2F8E">d</text>
<ellipse cx="1073.5" cy="958" rx="25.8" ry="26.8" fill="#fff" stroke="#A2142F" stroke-width="1.5"/>
<path d="M0.3726,0 L0.2847,0 L0.2847,-0.5601 Q0.2529,-0.5298 0.2014,-0.4995 Q0.1499,-0.4692 0.1089,-0.4541 L0.1089,-0.5391 Q0.1826,-0.5737 0.2378,-0.6230 Q0.2930,-0.6724 0.3159,-0.7188 L0.3726,-0.7188 Z" transform="translate(1055.2,969.8) scale(32)" fill="#A2142F"/>
<text x="1073" y="969.8" font-size="32" fill="#A2142F">e</text>
<ellipse cx="1073.5" cy="1000.5" rx="25.8" ry="26.8" fill="#fff" stroke="#7E2F8E" stroke-width="1.5"/>
<path d="M0.3726,0 L0.2847,0 L0.2847,-0.5601 Q0.2529,-0.5298 0.2014,-0.4995 Q0.1499,-0.4692 0.1089,-0.4541 L0.1089,-0.5391 Q0.1826,-0.5737 0.2378,-0.6230 Q0.2930,-0.6724 0.3159,-0.7188 L0.3726,-0.7188 Z" transform="translate(1055.2,1012) scale(32)" fill="#7E2F8E"/>
<text x="1073" y="1012" font-size="32" fill="#7E2F8E">d</text>
<ellipse cx="1075.2" cy="1046.2" rx="26" ry="27" fill="#fff" stroke="#005C00" stroke-width="1.5"/>
<path d="M0.3726,0 L0.2847,0 L0.2847,-0.5601 Q0.2529,-0.5298 0.2014,-0.4995 Q0.1499,-0.4692 0.1089,-0.4541 L0.1089,-0.5391 Q0.1826,-0.5737 0.2378,-0.6230 Q0.2930,-0.6724 0.3159,-0.7188 L0.3726,-0.7188 Z" transform="translate(1061.4,1057) scale(32)" fill="#005C00"/>
<text x="1079.1" y="1057" font-size="32" fill="#005C00">f</text>
</svg>
</body></html>
